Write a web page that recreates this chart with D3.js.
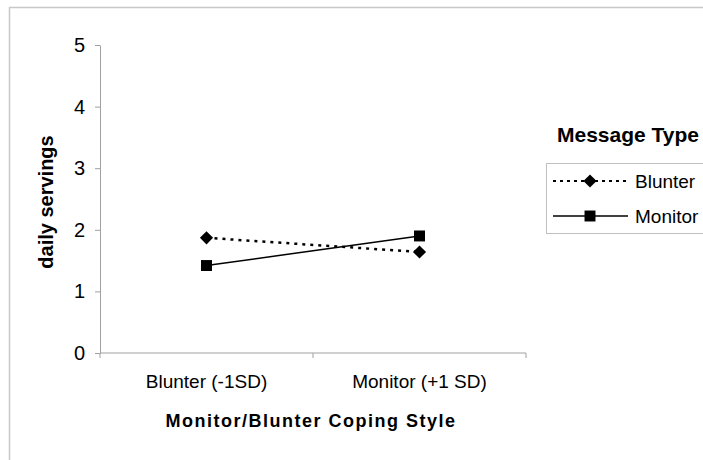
<!DOCTYPE html>
<html>
<head>
<meta charset="utf-8">
<script src="https://cdn.jsdelivr.net/npm/d3@7"></script>
<style>
	body { margin: 0; background: #fff; }
	text { font-family: "Liberation Sans", Arial, sans-serif; fill: #000; }
</style>
</head>
<body>
<div id="chart"></div>
<script>
const categories = ["Blunter (-1SD)", "Monitor (+1 SD)"]
const seriesNames = ["Blunter", "Monitor"]
const blunterValues = [1.87, 1.64]
const monitorValues = [1.42, 1.90]
const yTicks = [0, 1, 2, 3, 4, 5]

const width = 703, height = 460

const svg = d3.select("#chart").append("svg")
	.attr("width", width)
	.attr("height", height)

// рамка области диаграммы
svg.append("path")
	.attr("d", `M${width + 2},7.5 H9.5 V${height + 2}`)
	.attr("fill", "none")
	.attr("stroke", "#c8c8c8")
	.attr("stroke-width", 1.5)

const x = d3.scaleBand().domain(categories).range([100, 526])
const y = d3.scaleLinear().domain([0, 5]).range([353, 45])

// ось Y
const yAxis = svg.append("g")
	.attr("transform", "translate(100,0)")
	.call(d3.axisLeft(y).tickValues(yTicks).tickFormat(d3.format("d")).tickSize(5).tickSizeOuter(0).tickPadding(10))
yAxis.select(".domain").attr("stroke", "#a0a0a0")
yAxis.selectAll(".tick line").attr("stroke", "#a0a0a0")
yAxis.selectAll("text")
	.attr("font-family", null)
	.attr("font-size", null)
	.style("font-size", "20px")

// ось X с засечками между категориями
const xAxis = svg.append("g").attr("transform", "translate(0,353)")
xAxis.append("line")
	.attr("x1", x.range()[0]).attr("x2", x.range()[1])
	.attr("stroke", "#a0a0a0")
xAxis.selectAll(".sep")
	.data(categories.map(c => x(c)).concat([x.range()[1]]))
	.enter().append("line")
	.attr("x1", d => d).attr("x2", d => d)
	.attr("y1", 0).attr("y2", 5)
	.attr("stroke", "#a0a0a0")
xAxis.selectAll(".lbl")
	.data(categories)
	.enter().append("text")
	.attr("x", d => x(d) + x.bandwidth() / 2)
	.attr("y", 35)
	.attr("text-anchor", "middle")
	.style("font-size", "19px")
	.text(d => d)

svg.append("text")
	.attr("x", 311).attr("y", 427)
	.attr("text-anchor", "middle")
	.style("font-size", "18px")
	.style("font-weight", "bold")
	.style("letter-spacing", "1.5px")
	.text("Monitor/Blunter Coping Style")

svg.append("text")
	.attr("transform", "translate(53,202) rotate(-90)")
	.attr("text-anchor", "middle")
	.style("font-size", "20px")
	.style("font-weight", "bold")
	.text("daily servings")

const cx = d => x(d) + x.bandwidth() / 2
const line = d3.line().x(d => cx(d.cat)).y(d => y(d.v))

const series = [
	{ name: seriesNames[0], values: blunterValues, dash: "3,5", symbol: d3.symbolDiamond2, size: 110 },
	{ name: seriesNames[1], values: monitorValues, dash: null, symbol: d3.symbolSquare, size: 120 }
]

series.forEach(s => {
	const pts = s.values.map((v, i) => ({ cat: categories[i], v }))
	svg.append("path")
		.attr("d", line(pts))
		.attr("fill", "none")
		.attr("stroke", "#000")
		.attr("stroke-width", s.dash ? 2.5 : 1.5)
		.attr("stroke-dasharray", s.dash)
	svg.selectAll(null)
		.data(pts)
		.enter().append("path")
		.attr("transform", d => `translate(${cx(d.cat)},${y(d.v)})`)
		.attr("d", d3.symbol(s.symbol, s.size))
		.attr("fill", "#000")
})

// легенда
svg.append("text")
	.attr("x", 557).attr("y", 142)
	.style("font-size", "21px")
	.style("font-weight", "bold")
	.text("Message Type")

svg.append("rect")
	.attr("x", 546.5).attr("y", 163.5)
	.attr("width", 170).attr("height", 70)
	.attr("fill", "none")
	.attr("stroke", "#c0c0c0")

const leg = svg.selectAll(".leg")
	.data(series)
	.enter().append("g")
	.attr("transform", (d, i) => `translate(553,${181 + i * 35})`)
leg.append("line")
	.attr("x1", 0).attr("x2", 75)
	.attr("stroke", "#000")
	.attr("stroke-width", d => d.dash ? 2 : 1.5)
	.attr("stroke-dasharray", d => d.dash ? "3,4" : null)
leg.append("path")
	.attr("transform", "translate(37,0)")
	.attr("d", d => d3.symbol(d.symbol, d.size)())
	.attr("fill", "#000")
leg.append("text")
	.attr("x", 82).attr("dy", "0.35em")
	.style("font-size", "19px")
	.text(d => d.name)
</script>
</body>
</html>
